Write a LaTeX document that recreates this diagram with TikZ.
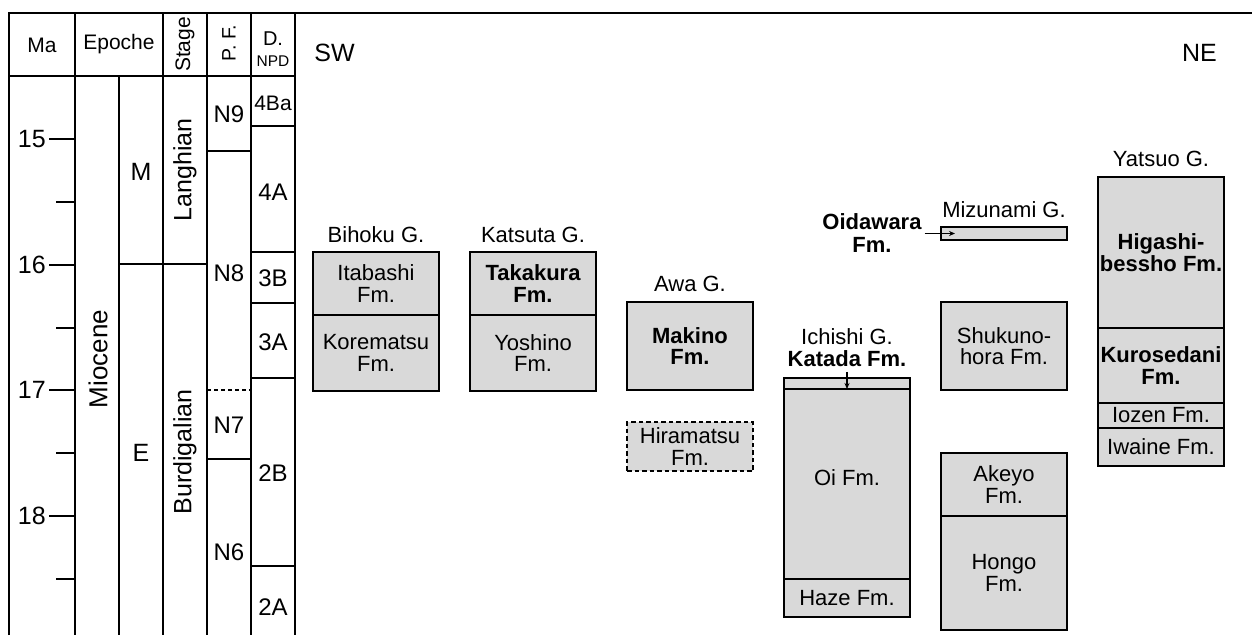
\documentclass[tikz,border=0pt]{standalone}
\usepackage{fontspec}
\setmainfont{Liberation Sans}
\usetikzlibrary{arrows.meta}
\definecolor{fmgray}{RGB}{217,217,217}
\newcommand\fsz[2]{\fontsize{#1}{#2}\selectfont}
\begin{document}
\begin{tikzpicture}[x=1pt,y=-1pt,
  ln/.style={line width=1.9pt},
  dln/.style={line width=1.9pt, dash pattern=on 4pt off 3pt},
  fm/.style={draw, line width=1.9pt, fill=fmgray, inner sep=0pt, outer sep=0pt,
    anchor=north west, align=center, minimum width=126pt, font=\fsz{22}{21.5}},
  bfm/.style={fm, font=\fsz{22}{21.5}\bfseries},
  grp/.style={inner sep=0pt, font=\fsz{22}{22}},
  lbl/.style={inner sep=0pt, font=\fsz{25}{25}},
  hdr/.style={inner sep=0pt, font=\fsz{21}{21}},
  arr/.style={line width=1.3pt, -{Stealth[length=6pt,width=5pt]}}
]
\useasboundingbox (0,0) rectangle (1252,635);

% ---------- table frame ----------
\draw[ln] (9,635) -- (9,13) -- (1252,13);
\foreach \x in {75,163,207,251,295} \draw[ln] (\x,13) -- (\x,635);
\draw[ln] (119,76) -- (119,635);
\draw[ln] (9,76) -- (295,76);
\draw[ln] (119,264) -- (207,264);
% P.F. boundaries
\draw[ln] (207,151) -- (251,151);
\draw[dln] (207,390) -- (251,390);
\draw[ln] (207,459) -- (251,459);
% NPD boundaries
\foreach \y in {126,252,303,378,566} \draw[ln] (251,\y) -- (295,\y);
% ticks
\foreach \y in {139,265,390,516} \draw[ln] (49,\y) -- (75,\y);
\foreach \y in {202,328,453,579} \draw[ln] (56,\y) -- (75,\y);

% ---------- header ----------
\node[hdr] (hma) at (42,45) {Ma};
\node[hdr] (hep) at (119,44) {Epoche};
\node[hdr, rotate=90] (hst) at (185,44.5) {Stage};
\node[hdr, rotate=90, font=\fsz{19.5}{19.5}] (hpf) at (229,43) {P. F.};
\node[hdr, font=\fsz{20}{20}] (hd) at (273,39) {D.};
\node[hdr, font=\fsz{15.5}{15.5}] (hnpd) at (273,61) {NPD};

% ---------- age labels ----------
\node[lbl, anchor=east] (a15) at (46,139) {15};
\node[lbl, anchor=east] (a16) at (46,265) {16};
\node[lbl, anchor=east] (a17) at (46,390) {17};
\node[lbl, anchor=east] (a18) at (46,516) {18};

\node[lbl, rotate=90, font=\fsz{26}{26}] (mio) at (98,359) {Miocene};
\node[lbl] (epm) at (141,172) {M};
\node[lbl] (epe) at (141,453) {E};
\node[lbl, rotate=90] (lan) at (185,170) {Langhian};
\node[lbl, rotate=90] (bur) at (185,452) {Burdigalian};
\node[lbl, font=\fsz{24}{24}] (n9) at (229,114) {N9};
\node[lbl, font=\fsz{24}{24}] (n8) at (229,273) {N8};
\node[lbl, font=\fsz{24}{24}] (n7) at (229,425) {N7};
\node[lbl, font=\fsz{24}{24}] (n6) at (229,552) {N6};
\node[lbl, font=\fsz{21}{21}] (d4ba) at (273,103) {4Ba};
\node[lbl, font=\fsz{24}{24}] (d4a) at (273,192) {4A};
\node[lbl, font=\fsz{24}{24}] (d3b) at (273,278) {3B};
\node[lbl, font=\fsz{24}{24}] (d3a) at (273,342) {3A};
\node[lbl, font=\fsz{24}{24}] (d2b) at (273,473) {2B};
\node[lbl, font=\fsz{24}{24}] (d2a) at (273,607) {2A};

\node[lbl] (sw) at (334.5,53) {SW};
\node[lbl] (ne) at (1199.5,53) {NE};

% ---------- Bihoku G. ----------
\node[grp] (gbih) at (376,235) {Bihoku G.};
\node[fm, minimum height=63pt] (itab) at (313,252) {Itabashi\\Fm.};
\node[fm, minimum height=76pt] (kore) at (313,315) {Korematsu\\Fm.};

% ---------- Katsuta G. ----------
\node[grp] (gkat) at (533,235) {Katsuta G.};
\node[bfm, minimum height=63pt] (taka) at (470,252) {Takakura\\Fm.};
\node[fm, minimum height=76pt] (yosh) at (470,315) {Yoshino\\Fm.};

% ---------- Awa G. ----------
\node[grp] (gawa) at (690,284) {Awa G.};
\node[bfm, minimum height=88pt] (maki) at (627,302) {Makino\\Fm.};
\node[fm, dash pattern=on 4.5pt off 3pt, minimum height=49pt] (hira) at (627,422) {Hiramatsu\\Fm.};

% ---------- Ichishi G. ----------
\node[grp] (gich) at (847,337) {Ichishi G.};
\node[grp, font=\fsz{22}{22}\bfseries, anchor=base] (katlbl) at (847,366.5) {Katada Fm.};
\node[fm, minimum height=11pt] (kata) at (784,378) {};
\node[fm, minimum height=190pt, text depth=12pt] (oi) at (784,389) {Oi Fm.};
\node[fm, minimum height=38pt] (haze) at (784,579) {Haze Fm.};
\draw[arr] ([yshift=-5pt]katlbl.south) -- (kata.south);

% ---------- Mizunami G. ----------
\node[grp] (gmiz) at (1004,210) {Mizunami G.};
\node[fm, minimum height=13pt] (oida) at (941,227) {};
\node[grp, font=\fsz{22}{22.5}\bfseries, align=center] (oidlbl) at (872,233) {Oidawara\\Fm.};
\draw[arr] ([xshift=3pt]oidlbl.east |- oida.west) -- ([xshift=14pt]oida.west);
\node[fm, minimum height=88pt] (shuk) at (941,302) {Shukuno-\\hora Fm.};
\node[fm, minimum height=63pt] (akey) at (941,453) {Akeyo\\Fm.};
\node[fm, minimum height=114pt] (hong) at (941,516) {Hongo\\Fm.};

% ---------- Yatsuo G. ----------
\node[grp] (gyat) at (1161,159) {Yatsuo G.};
\node[bfm, minimum height=151pt] (higa) at (1098,177) {Higashi-\\bessho Fm.};
\node[bfm, minimum height=75pt] (kuro) at (1098,328) {Kurosedani\\Fm.};
\node[fm, minimum height=25pt] (ioze) at (1098,403) {Iozen Fm.};
\node[fm, minimum height=38pt] (iwai) at (1098,428) {Iwaine Fm.};
\end{tikzpicture}
\end{document}
